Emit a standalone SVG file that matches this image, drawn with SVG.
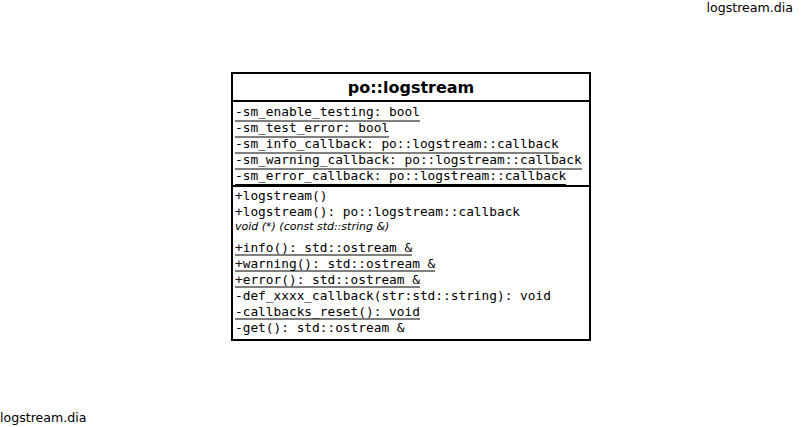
<svg xmlns="http://www.w3.org/2000/svg" width="801" height="427" viewBox="0 0 801 427">
<style>
.mono{font-family:"DejaVu Sans Mono",monospace;font-size:12.8px;fill:#000}
.title{font-family:"DejaVu Sans",sans-serif;font-size:16px;font-weight:bold;fill:#000}
.ital{font-family:"DejaVu Sans",sans-serif;font-size:11px;font-style:italic;fill:#000}
.lbl{font-family:"DejaVu Sans",sans-serif;font-size:12.6px;fill:#000}
.ul{stroke:#000;stroke-width:1}
.sep{stroke:#000;stroke-width:2}
</style>
<rect width="801" height="427" fill="#fff"/>
<text class="lbl" x="793" y="12" text-anchor="end">logstream.dia</text>
<text class="lbl" x="0" y="422">logstream.dia</text>
<g id="po_logstream">
<rect x="232" y="73" width="358" height="267" fill="#fff" stroke="#000" stroke-width="2"/>
<line class="sep" x1="232" y1="101" x2="590" y2="101"/>
<line class="sep" x1="232" y1="186" x2="590" y2="186"/>
<text class="title" x="411" y="93" text-anchor="middle">po::logstream</text>
<text class="mono" x="235" y="116">-sm_enable_testing: bool</text>
<line class="ul" x1="235" y1="121" x2="420" y2="121"/>
<text class="mono" x="235" y="132">-sm_test_error: bool</text>
<line class="ul" x1="235" y1="137" x2="389" y2="137"/>
<text class="mono" x="235" y="148">-sm_info_callback: po::logstream::callback</text>
<line class="ul" x1="235" y1="153" x2="559" y2="153"/>
<text class="mono" x="235" y="164">-sm_warning_callback: po::logstream::callback</text>
<line class="ul" x1="235" y1="169" x2="582" y2="169"/>
<text class="mono" x="235" y="180">-sm_error_callback: po::logstream::callback</text>
<line class="ul" x1="235" y1="184.5" x2="566" y2="184.5"/>
<text class="mono" x="235" y="200">+logstream()</text>
<text class="mono" x="235" y="216">+logstream(): po::logstream::callback</text>
<text class="ital" x="235" y="230">void (*) (const std::string &amp;)</text>
<text class="mono" x="235" y="252">+info(): std::ostream &amp;</text>
<line class="ul" x1="235" y1="255" x2="412" y2="255"/>
<text class="mono" x="235" y="268">+warning(): std::ostream &amp;</text>
<line class="ul" x1="235" y1="271" x2="435" y2="271"/>
<text class="mono" x="235" y="284">+error(): std::ostream &amp;</text>
<line class="ul" x1="235" y1="287" x2="420" y2="287"/>
<text class="mono" x="235" y="300">-def_xxxx_callback(str:std::string): void</text>
<text class="mono" x="235" y="316">-callbacks_reset(): void</text>
<line class="ul" x1="235" y1="319" x2="420" y2="319"/>
<text class="mono" x="235" y="332">-get(): std::ostream &amp;</text>
</g>
<g id="connectors"></g>
</svg>
